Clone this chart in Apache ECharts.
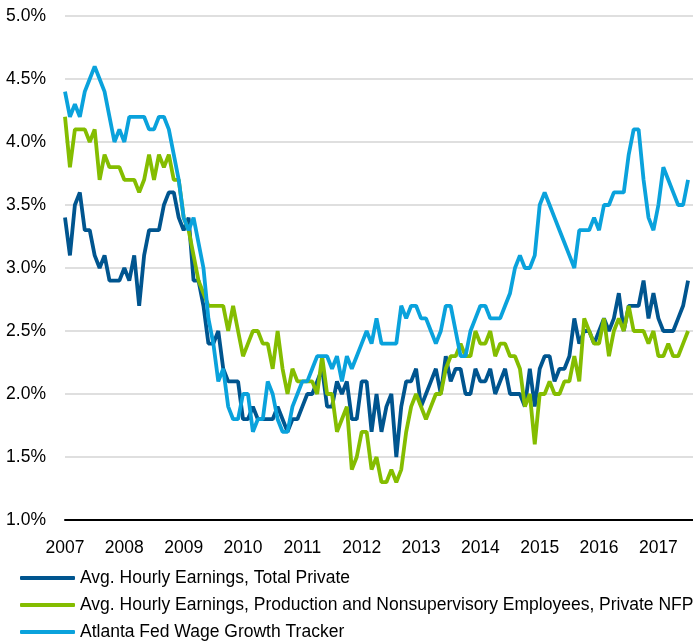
<!DOCTYPE html>
<html>
<head>
<meta charset="utf-8">
<script src="https://cdn.jsdelivr.net/npm/echarts@6/dist/echarts.min.js"></script>
<style>
html,body{margin:0;padding:0;background:#fff;}
#chart{width:693px;height:642px;}
</style>
</head>
<body>
<div id="chart"></div>
<script>
// Monthly categories Jan 2007 .. Aug 2017 (last slot empty, as in the reference the series stop just before the edge)
var startYear = 2007, endYear = 2017, lastMonth = 8;
var months = [];
for (var y = startYear; y <= endYear; y++) {
  for (var m = 1; m <= 12; m++) {
    if (y === endYear && m > lastMonth) break;
    months.push(y + '-' + (m < 10 ? '0' + m : m));
  }
}

var seriesNames = [
  'Avg. Hourly Earnings, Total Private',
  'Avg. Hourly Earnings, Production and Nonsupervisory Employees, Private NFP',
  'Atlanta Fed Wage Growth Tracker'
];

// Avg. Hourly Earnings, Total Private (% y/y), Jan 2007 - Jul 2017
var ahePrivate = [
  3.4, 3.1, 3.5, 3.6, 3.3, 3.3, 3.1, 3.0, 3.1, 2.9, 2.9, 2.9,
  3.0, 2.9, 3.1, 2.7, 3.1, 3.3, 3.3, 3.3, 3.5, 3.6, 3.6, 3.4,
  3.3, 3.4, 2.9, 2.9, 2.7, 2.4, 2.4, 2.5, 2.2, 2.1, 2.1, 2.1,
  1.8, 1.8, 1.9, 1.8, 1.8, 1.8, 1.8, 1.9, 1.8, 1.7, 1.8, 1.8,
  1.9, 2.0, 2.0, 2.1, 2.2, 1.9, 1.9, 2.1, 2.0, 2.1, 1.8, 1.8,
  2.1, 2.1, 1.7, 2.0, 1.7, 1.9, 2.0, 1.5, 1.9, 2.1, 2.1, 2.2,
  1.9, 2.0, 2.1, 2.2, 2.0, 2.3, 2.1, 2.2, 2.2, 2.0, 2.0, 2.2,
  2.1, 2.1, 2.2, 2.0, 2.1, 2.2, 2.0, 2.0, 2.0, 1.9, 2.2, 1.9,
  2.2, 2.3, 2.3, 2.1, 2.2, 2.2, 2.3, 2.6, 2.4, 2.5, 2.5, 2.4,
  2.5, 2.6, 2.5, 2.6, 2.8, 2.5, 2.7, 2.7, 2.7, 2.9, 2.6, 2.8,
  2.6, 2.5, 2.5, 2.5, 2.6, 2.7, 2.9, null
];

// Avg. Hourly Earnings, Production and Nonsupervisory Employees
var aheProdNonsup = [
  4.2, 3.8, 4.1, 4.1, 4.1, 4.0, 4.1, 3.7, 3.9, 3.8, 3.8, 3.8,
  3.7, 3.7, 3.7, 3.6, 3.7, 3.9, 3.7, 3.9, 3.8, 3.9, 3.7, 3.7,
  3.4, 3.3, 3.1, 2.9, 2.8, 2.7, 2.7, 2.7, 2.7, 2.5, 2.7, 2.5,
  2.3, 2.4, 2.5, 2.5, 2.4, 2.4, 2.2, 2.5, 2.2, 2.0, 2.2, 2.1,
  2.1, 2.1, 2.1, 2.0, 2.3, 2.0, 2.0, 1.7, 1.8, 1.9, 1.4, 1.5,
  1.7, 1.7, 1.4, 1.5, 1.3, 1.3, 1.4, 1.3, 1.4, 1.7, 1.9, 2.0,
  1.9, 1.8, 1.9, 2.0, 2.0, 2.2, 2.3, 2.3, 2.4, 2.3, 2.3, 2.5,
  2.4, 2.4, 2.5, 2.3, 2.4, 2.4, 2.3, 2.3, 2.2, 1.9, 2.0, 1.6,
  2.0, 2.0, 2.1, 2.0, 2.0, 2.1, 2.1, 2.3, 2.1, 2.6, 2.5, 2.4,
  2.4, 2.6, 2.3, 2.5, 2.6, 2.5, 2.7, 2.5, 2.5, 2.5, 2.4, 2.5,
  2.3, 2.3, 2.4, 2.3, 2.3, 2.4, 2.5, null
];

// Atlanta Fed Wage Growth Tracker
var atlantaFed = [
  4.4, 4.2, 4.3, 4.2, 4.4, 4.5, 4.6, 4.5, 4.4, 4.2, 4.0, 4.1,
  4.0, 4.2, 4.2, 4.2, 4.2, 4.1, 4.1, 4.2, 4.2, 4.1, 3.9, 3.7,
  3.4, 3.3, 3.4, 3.2, 3.0, 2.6, 2.4, 2.1, 2.2, 1.9, 1.8, 1.8,
  2.0, 2.0, 1.7, 1.8, 1.8, 2.1, 2.0, 1.8, 1.7, 1.7, 1.9, 2.0,
  2.1, 2.1, 2.2, 2.3, 2.3, 2.3, 2.2, 2.3, 2.1, 2.3, 2.2, 2.3,
  2.4, 2.5, 2.4, 2.6, 2.4, 2.4, 2.4, 2.4, 2.7, 2.6, 2.7, 2.7,
  2.6, 2.6, 2.5, 2.4, 2.5, 2.7, 2.7, 2.5, 2.3, 2.3, 2.5, 2.6,
  2.7, 2.7, 2.6, 2.6, 2.6, 2.7, 2.8, 3.0, 3.1, 3.0, 3.0, 3.1,
  3.5, 3.6, 3.5, 3.4, 3.3, 3.2, 3.1, 3.0, 3.3, 3.3, 3.3, 3.4,
  3.3, 3.5, 3.5, 3.6, 3.6, 3.6, 3.9, 4.1, 4.1, 3.7, 3.4, 3.3,
  3.5, 3.8, 3.7, 3.6, 3.5, 3.5, 3.7, null
];

var yMin = 1.0, yMax = 5.0, yStep = 0.5;
var colors = ['#00558f', '#84bd00', '#0aa2dc'];
var FONT = "'Liberation Sans', Arial, sans-serif";

var chart = echarts.init(document.getElementById('chart'), null, {renderer: 'canvas'});
chart.setOption({
  animation: false,
  backgroundColor: '#ffffff',
  color: colors,
  grid: {left: 65, right: 0, top: 16, bottom: 122, containLabel: false},
  xAxis: {
    type: 'category',
    data: months,
    boundaryGap: false,
    axisLine: {show: true, lineStyle: {color: '#000000', width: 2}},
    axisTick: {show: false},
    splitLine: {show: false},
    axisLabel: {
      interval: function (idx) { return idx % 12 === 0; },
      formatter: function (v) { return v.slice(0, 4); },
      color: '#000', fontSize: 17.5, fontFamily: FONT, margin: 19
    }
  },
  yAxis: {
    type: 'value',
    min: yMin, max: yMax, interval: yStep,
    axisLine: {show: false},
    axisTick: {show: false},
    splitLine: {show: true, lineStyle: {color: '#d4d4d4', width: 1.5}},
    axisLabel: {
      formatter: function (v) { return v.toFixed(1) + '%'; },
      color: '#000', fontSize: 17.5, fontFamily: FONT, margin: 19
    }
  },
  legend: {
    orient: 'vertical',
    left: 20, top: 569, height: 120,
    padding: 0,
    itemWidth: 55, itemHeight: 4, itemGap: 9,
    icon: 'roundRect',
    textStyle: {color: '#000', fontSize: 17.5, fontFamily: FONT, lineHeight: 17},
    data: seriesNames
  },
  series: [
    {name: seriesNames[0], type: 'line', data: ahePrivate, showSymbol: false, symbol: 'none',
     lineStyle: {width: 3.8, color: colors[0]}, itemStyle: {color: colors[0]}},
    {name: seriesNames[1], type: 'line', data: aheProdNonsup, showSymbol: false, symbol: 'none',
     lineStyle: {width: 3.8, color: colors[1]}, itemStyle: {color: colors[1]}},
    {name: seriesNames[2], type: 'line', data: atlantaFed, showSymbol: false, symbol: 'none',
     lineStyle: {width: 3.8, color: colors[2]}, itemStyle: {color: colors[2]}}
  ]
});
</script>
</body>
</html>
